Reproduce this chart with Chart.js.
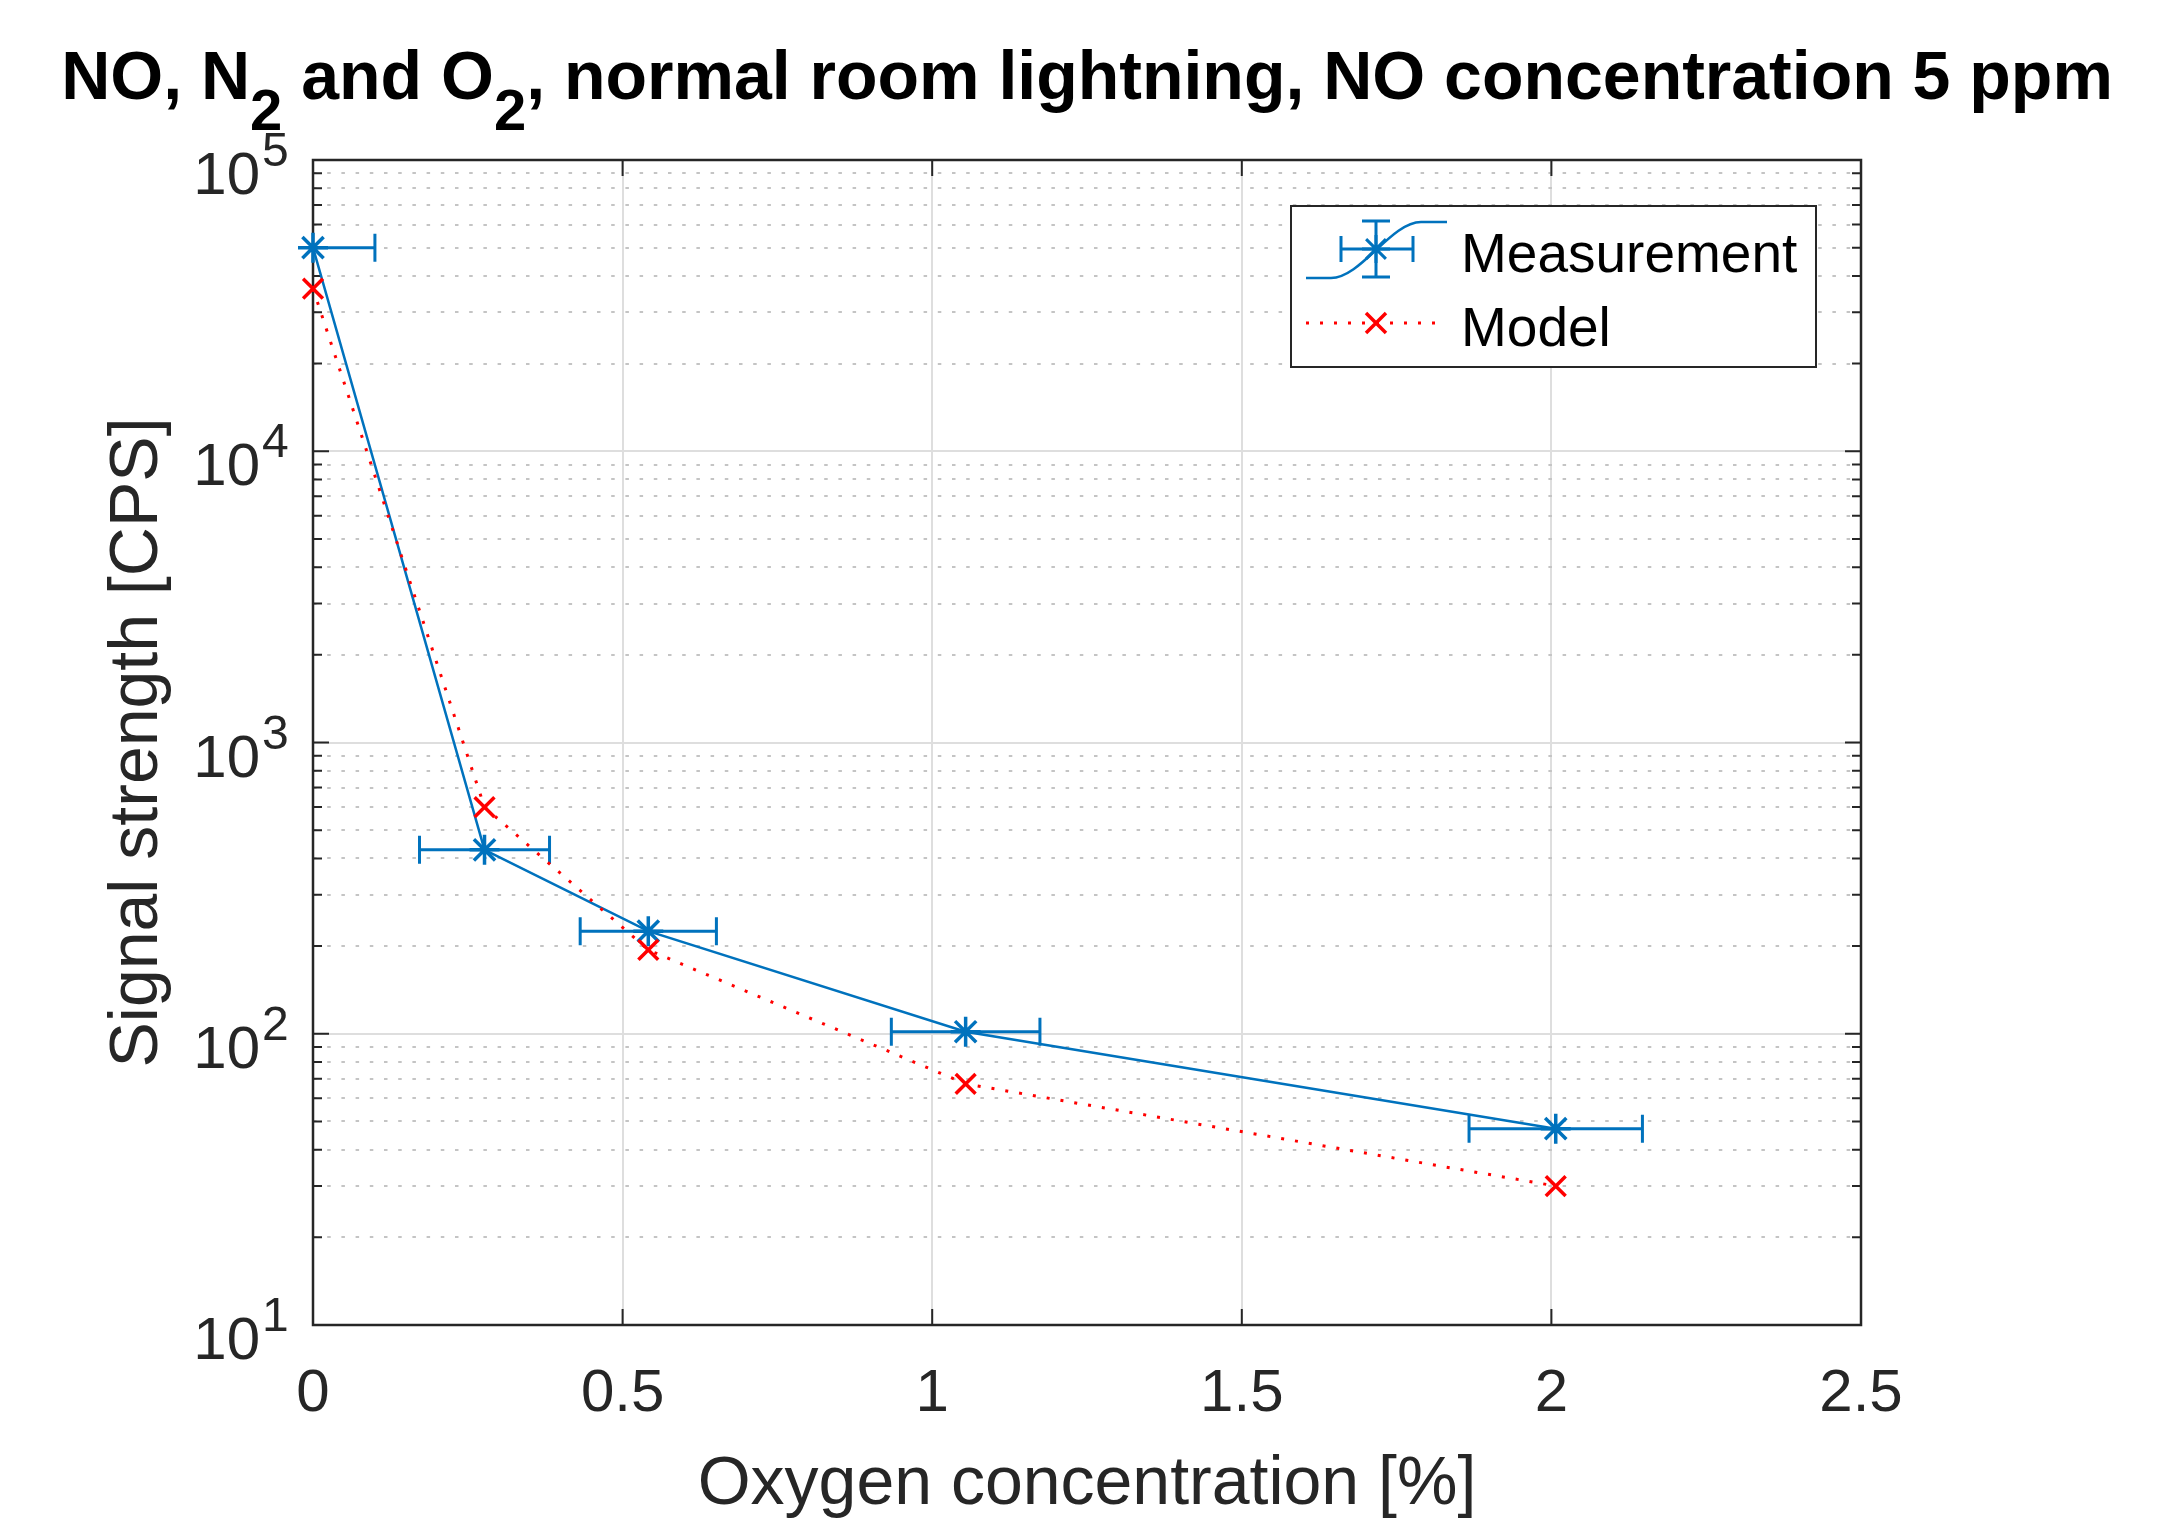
<!DOCTYPE html>
<html><head><meta charset="utf-8">
<script src="https://cdn.jsdelivr.net/npm/chart.js@4/dist/chart.umd.min.js"></script>
<style>html,body{margin:0;padding:0;background:#fff}canvas{display:block}</style>
</head><body>
<canvas id="c" width="2171" height="1521"></canvas>
<script>
// ---------------- data ----------------
const oxygenConc   = [0, 0.277, 0.5415, 1.054, 2.007];      // %
const measured     = [50000, 428, 225, 101.6, 47.2];         // CPS
const oxygenErr    = [0.1, 0.105, 0.11, 0.12, 0.14];          // +/- %
const modelled     = [36150, 600, 194, 67.3, 30.0];          // CPS
const seriesNames  = ['Measurement', 'Model'];
const xTicks       = [0, 0.5, 1, 1.5, 2, 2.5];
const yDecadeExps  = [1, 2, 3, 4, 5];
const titleParts   = [['NO, N', false], ['2', true], [' and O', false], ['2', true], [', normal room lightning, NO concentration 5 ppm', false]];
const xLabel       = 'Oxygen concentration [%]';
const yLabel       = 'Signal strength [CPS]';

// ---------------- style ----------------
const FONT = '"Liberation Sans", Arial, Helvetica, sans-serif';
const AX = '#262626';
const BLUE = '#0072BD';
const RED = '#FF0000';

// y tick values (decades + minor 2..9)
const yTickValues = [];
yDecadeExps.forEach((e, i) => {
  const base = Math.pow(10, e);
  yTickValues.push({ value: base, major: true });
  if (i < yDecadeExps.length - 1) for (let m = 2; m <= 9; m++) yTickValues.push({ value: m * base, major: false });
});

function drawStar(ctx, x, y, r) {
  ctx.beginPath();
  for (let k = 0; k < 4; k++) {
    const a = k * Math.PI / 4;
    ctx.moveTo(x - Math.cos(a) * r, y - Math.sin(a) * r);
    ctx.lineTo(x + Math.cos(a) * r, y + Math.sin(a) * r);
  }
  ctx.stroke();
}
function drawX(ctx, x, y, r) {
  ctx.beginPath();
  ctx.moveTo(x - r, y - r); ctx.lineTo(x + r, y + r);
  ctx.moveTo(x - r, y + r); ctx.lineTo(x + r, y - r);
  ctx.stroke();
}

const matlabPlugin = {
  id: 'matlab',
  beforeDatasetsDraw(chart) {
    const { ctx, chartArea: a, scales: { x, y } } = chart;
    ctx.save();
    // frame
    ctx.strokeStyle = AX; ctx.lineWidth = 2.5;
    ctx.strokeRect(a.left, a.top, a.right - a.left, a.bottom - a.top);
    // inner ticks
    ctx.lineWidth = 2;
    ctx.beginPath();
    xTicks.forEach(v => {
      const px = x.getPixelForValue(v);
      ctx.moveTo(px, a.bottom); ctx.lineTo(px, a.bottom - 16);
      ctx.moveTo(px, a.top); ctx.lineTo(px, a.top + 16);
    });
    y.ticks.forEach(t => {
      const py = y.getPixelForValue(t.value);
      const L = t.major ? 16 : 9;
      ctx.moveTo(a.left, py); ctx.lineTo(a.left + L, py);
      ctx.moveTo(a.right, py); ctx.lineTo(a.right - L, py);
    });
    ctx.stroke();
    // horizontal error bars
    ctx.beginPath(); ctx.rect(a.left, a.top, a.right - a.left, a.bottom - a.top); ctx.clip();
    ctx.strokeStyle = BLUE; ctx.lineWidth = 3;
    ctx.beginPath();
    oxygenConc.forEach((v, i) => {
      const xl = x.getPixelForValue(v - oxygenErr[i]);
      const xr = x.getPixelForValue(v + oxygenErr[i]);
      const py = y.getPixelForValue(measured[i]);
      ctx.moveTo(xl, py); ctx.lineTo(xr, py);
      ctx.moveTo(xl, py - 14); ctx.lineTo(xl, py + 14);
      ctx.moveTo(xr, py - 14); ctx.lineTo(xr, py + 14);
    });
    ctx.stroke();
    ctx.restore();
  },
  afterDraw(chart) {
    const { ctx, chartArea: a, scales: { y } } = chart;
    ctx.save();
    // y tick labels 10^n
    ctx.fillStyle = AX;
    yDecadeExps.forEach(e => {
      const py = y.getPixelForValue(Math.pow(10, e));
      ctx.font = '60px ' + FONT;
      ctx.textAlign = 'right'; ctx.textBaseline = 'alphabetic';
      ctx.fillText('10', a.left - 53, py + 34);
      ctx.font = '48px ' + FONT;
      ctx.textAlign = 'left';
      ctx.fillText(String(e), a.left - 51, py + 6);
    });
    // title with subscripts
    const mainF = 'bold 68px ' + FONT, subF = 'bold 58px ' + FONT;
    let total = 0;
    titleParts.forEach(([t, sub]) => { ctx.font = sub ? subF : mainF; total += ctx.measureText(t).width; });
    let cx = (a.left + a.right) / 2 - total / 2;
    ctx.fillStyle = '#000';
    ctx.textAlign = 'left';
    titleParts.forEach(([t, sub]) => {
      ctx.font = sub ? subF : mainF;
      ctx.fillText(t, cx, sub ? 130 : 99);
      cx += ctx.measureText(t).width;
    });
    // legend
    const bx = a.right - 570, by = a.top + 46, bw = 525, bh = 161;
    ctx.fillStyle = '#fff';
    ctx.fillRect(bx, by, bw, bh);
    ctx.strokeStyle = AX; ctx.lineWidth = 2;
    ctx.strokeRect(bx, by, bw, bh);
    // measurement icon
    const mx = bx + 85, my = by + 43;
    ctx.strokeStyle = BLUE; ctx.lineWidth = 2.5;
    ctx.beginPath();
    ctx.moveTo(bx + 15, my + 29); ctx.lineTo(bx + 40, my + 29);
    ctx.bezierCurveTo(bx + 70, my + 29, bx + 100, my - 27, bx + 130, my - 27);
    ctx.lineTo(bx + 156, my - 27);
    ctx.stroke();
    ctx.lineWidth = 3;
    ctx.beginPath();
    ctx.moveTo(mx - 35, my); ctx.lineTo(mx + 37, my);
    ctx.moveTo(mx - 35, my - 13); ctx.lineTo(mx - 35, my + 13);
    ctx.moveTo(mx + 37, my - 13); ctx.lineTo(mx + 37, my + 13);
    ctx.moveTo(mx, my - 28); ctx.lineTo(mx, my + 28);
    ctx.moveTo(mx - 14, my - 28); ctx.lineTo(mx + 14, my - 28);
    ctx.moveTo(mx - 14, my + 28); ctx.lineTo(mx + 14, my + 28);
    ctx.stroke();
    drawStar(ctx, mx, my, 14);
    // model icon
    const ry = by + 117;
    ctx.strokeStyle = RED; ctx.lineWidth = 3; ctx.setLineDash([3, 11]);
    ctx.beginPath(); ctx.moveTo(bx + 15, ry); ctx.lineTo(bx + 146, ry); ctx.stroke();
    ctx.setLineDash([]); ctx.lineWidth = 3.5;
    drawX(ctx, mx, ry, 10);
    ctx.fillStyle = '#000';
    ctx.font = '55px ' + FONT;
    ctx.textAlign = 'left'; ctx.textBaseline = 'alphabetic';
    ctx.fillText(seriesNames[0], bx + 170, by + 66);
    ctx.fillText(seriesNames[1], bx + 170, by + 140);
    ctx.restore();
  }
};

new Chart(document.getElementById('c'), {
  type: 'line',
  data: {
    datasets: [
      {
        label: seriesNames[0],
        data: oxygenConc.map((v, i) => ({ x: v, y: measured[i] })),
        borderColor: BLUE, backgroundColor: BLUE, borderWidth: 2.5,
        pointStyle: 'star', pointRadius: 15, pointBorderWidth: 3.5, pointBorderColor: BLUE,
        pointBackgroundColor: BLUE, tension: 0, clip: false, order: 1
      },
      {
        label: seriesNames[1],
        data: oxygenConc.map((v, i) => ({ x: v, y: modelled[i] })),
        borderColor: RED, backgroundColor: RED, borderWidth: 3, borderDash: [3, 11],
        pointStyle: 'crossRot', pointRadius: 14, pointBorderWidth: 3.5, pointBorderColor: RED,
        tension: 0, clip: false, order: 0
      }
    ]
  },
  options: {
    responsive: false, animation: false, devicePixelRatio: 1,
    layout: { padding: { left: 0, right: 310, top: 160, bottom: 0 } },
    plugins: { legend: { display: false }, title: { display: false }, tooltip: { enabled: false } },
    scales: {
      x: {
        type: 'linear', min: 0, max: 2.5,
        afterBuildTicks: s => { s.ticks = xTicks.map(v => ({ value: v })); },
        ticks: { font: { family: FONT, size: 60 }, color: AX, padding: 33, maxRotation: 0, autoSkip: false, callback: v => String(v) },
        grid: { color: '#dedede', lineWidth: 2, drawTicks: false },
        border: { display: false },
        title: { display: true, text: xLabel, font: { family: FONT, size: 68 }, color: AX, padding: { top: 0, bottom: -5 } },
        afterFit: s => { s.height = 1521 - 1325; }
      },
      y: {
        type: 'logarithmic', min: 10, max: 100000,
        afterBuildTicks: s => { s.ticks = yTickValues.map(t => ({ value: t.value, major: t.major })); },
        ticks: { display: false },
        grid: { color: c => (c.tick && c.tick.major) ? '#dedede' : '#c4c4c4', lineWidth: 2, drawTicks: false },
        border: { display: false, dash: c => (c.tick && !c.tick.major) ? [3.5, 10.7] : [] },
        title: { display: true, text: yLabel, font: { family: FONT, size: 68 }, color: AX, padding: { top: 97, bottom: 0 } },
        afterFit: s => { s.width = 313; }
      }
    }
  },
  plugins: [matlabPlugin]
});
</script>
</body></html>
